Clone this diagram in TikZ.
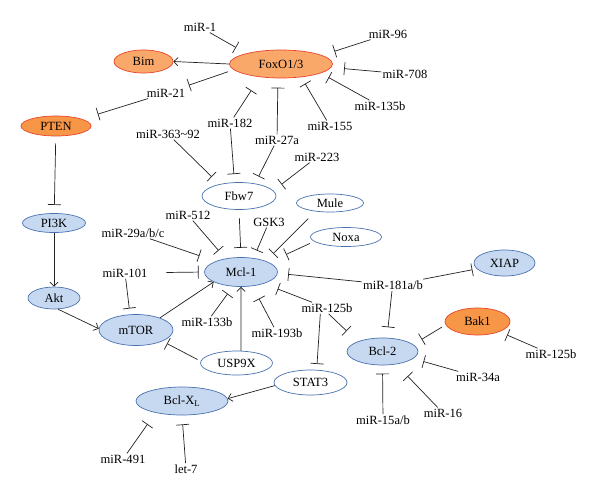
\documentclass[tikz,border=0pt]{standalone}
\usepackage{fontspec}
\setmainfont{Liberation Serif}
\usepackage{xcolor}
\definecolor{foxoColor}{HTML}{F9A86A}
\definecolor{bakColor}{HTML}{F79646}
\definecolor{redLine}{HTML}{E8452C}
\definecolor{blueColor}{HTML}{C6D9F1}
\definecolor{blueLine}{HTML}{4A72B0}
\definecolor{edgeColor}{HTML}{222222}
\usepackage{tikz}
\usetikzlibrary{shapes.geometric, arrows.meta}

\begin{document}
\begin{tikzpicture}[x=0.03cm, y=-0.03cm,
  every node/.style={font=\fontsize{10.7}{12}\selectfont},
  mir/.style={inner sep=1pt},
  el/.style 2 args={ellipse, inner sep=0pt, line width=0.6pt,
    minimum width=#1cm, minimum height=#2cm},
  orng/.style={draw=redLine, fill=foxoColor},
  dorng/.style={draw=redLine, fill=bakColor},
  blu/.style={draw=blueLine, fill=blueColor},
  wht/.style={draw=blueLine, fill=white},
  inh/.style={draw=edgeColor, line width=0.6pt, -{Bar[width=11pt]}},
  act/.style={draw=edgeColor, line width=0.6pt, -{Straight Barb[length=3.5pt,width=7pt]}}]
  \useasboundingbox (0,0) rectangle (600,498);

  % proteins
  \node[el={3.09}{0.84}, orng] (foxo) at (281,64) {FoxO1/3};
  \node[el={1.77}{0.69}, orng] (bim) at (143.5,61.5) {Bim};
  \node[el={2.10}{0.60}, dorng] (pten) at (56,126) {PTEN};
  \node[el={1.89}{0.57}, blu] (pi3k) at (54,223) {PI3K};
  \node[el={1.56}{0.66}, blu] (akt) at (54,298) {Akt};
  \node[el={2.22}{0.93}, blu] (mtor) at (136,330) {mTOR};
  \node[el={2.19}{0.87}, blu] (mcl) at (241,272) {Mcl-1};
  \node[el={2.22}{0.81}, wht] (fbw7) at (239,196) {Fbw7};
  \node[el={2.01}{0.54}, wht] (mule) at (330,203) {Mule};
  \node[el={2.13}{0.57}, wht] (noxa) at (346,237) {Noxa};
  \node[el={1.83}{0.78}, blu] (xiap) at (504.5,263) {XIAP};
  \node[el={1.95}{0.81}, dorng] (bak1) at (477.5,321.5) {Bak1};
  \node[el={2.13}{0.81}, blu] (bcl2) at (382.5,351.5) {Bcl-2};
  \node[el={2.16}{0.72}, wht] (usp) at (236.5,363) {USP9X};
  \node[el={2.19}{0.75}, wht] (stat3) at (310.5,382.5) {STAT3};
  \node[el={2.76}{0.84}, blu] (bclxl) at (182,401) {Bcl-X\textsubscript{L}};

  % regulators
  \node[mir] (m1) at (200,27) {miR-1};
  \node[mir] (m96) at (388,34) {miR-96};
  \node[mir] (m708) at (405,74) {miR-708};
  \node[mir] (m135b) at (380,106) {miR-135b};
  \node[mir] (m155) at (330,126) {miR-155};
  \node[mir] (m27a) at (277,140) {miR-27a};
  \node[mir] (m182) at (230,123) {miR-182};
  \node[mir] (m363) at (168,134) {miR-363\textasciitilde92};
  \node[mir] (m223) at (317,157) {miR-223};
  \node[mir] (m21) at (166,93) {miR-21};
  \node[mir] (m512) at (188,215) {miR-512};
  \node[mir] (m29) at (133,233) {miR-29a/b/c};
  \node[mir] (gsk3) at (269,222) {GSK3};
  \node[mir] (m101) at (125,273) {miR-101};
  \node[mir] (m133) at (207,322) {miR-133b};
  \node[mir] (m193) at (277,333) {miR-193b};
  \node[mir] (m125c) at (327,308) {miR-125b};
  \node[mir] (m181) at (393,285) {miR-181a/b};
  \node[mir] (m125r) at (551,354) {miR-125b};
  \node[mir] (m34a) at (478,377) {miR-34a};
  \node[mir] (m16) at (443,413) {miR-16};
  \node[mir] (m15) at (383,420) {miR-15a/b};
  \node[mir] (m491) at (123,459) {miR-491};
  \node[mir] (let7) at (186,469) {let-7};

  % FoxO1/3 block
  \draw[act] (foxo.west) -- (bim.east);
  \draw[inh, shorten >=10pt] (m1) -- (foxo.163);
  \draw[inh, shorten <=5pt, shorten >=6pt] (foxo.187) -- (m21);
  \draw[inh, shorten >=11pt] (m96) -- (foxo.12);
  \draw[inh, shorten >=11pt] (m708) -- (foxo.-4);
  \draw[inh, shorten >=7.5pt] (m135b) -- (foxo.-13);
  \draw[inh, shorten >=6.4pt] (m155) -- (foxo.-33);
  \draw[inh, shorten >=8pt] (m27a) -- (foxo.-102);
  \draw[inh, shorten >=13.5pt] (m182) -- (foxo.-148);

  % PTEN / PI3K / Akt / mTOR
  \draw[inh, shorten >=14pt] (m21) -- (pten.15);
  \draw[inh, shorten <=6pt, shorten >=7pt] (pten) -- (pi3k);
  \draw[act] (pi3k) -- (akt);
  \draw[act] (akt.-70) -- (mtor.178);
  \draw[inh, shorten >=5pt] (m101) -- (mtor.111);
  \draw[act] (mtor.27) -- (mcl.200);

  % Fbw7
  \draw[inh, shorten >=7pt] (m182) -- (fbw7.108);
  \draw[inh, shorten >=9pt] (m363) -- (fbw7.149);
  \draw[inh, shorten >=6.7pt] (m27a) -- (fbw7.38);
  \draw[inh, shorten >=8.7pt] (m223) -- (fbw7.9);

  % Mcl-1
  \draw[inh, shorten <=7pt, shorten >=8pt] (fbw7.south) -- (mcl.north);
  \draw[inh, shorten >=9pt] (m512) -- (mcl.139);
  \draw[inh, shorten >=14.6pt] (m29) -- (mcl.157);
  \draw[inh, shorten >=7pt] (gsk3) -- (mcl.48);
  \draw[inh, shorten <=8.6pt, shorten >=9pt] (mule.-150) -- (mcl.24);
  \draw[inh, shorten <=4pt, shorten >=16pt] (noxa.-172) -- (mcl.19);
  \draw[inh, shorten >=9pt] (m181) -- (mcl.-2);
  \draw[inh, shorten <=15pt, shorten >=4.7pt] (m101) -- (mcl.west);
  \draw[inh, shorten >=7.6pt] (m133) -- (mcl.-119);
  \draw[act] (usp.70) -- (mcl.south);
  \draw[inh, shorten <=3pt, shorten >=4.4pt] (usp.177) -- (mtor.-23);
  \draw[inh, shorten >=12pt] (m193) -- (mcl.-51);
  \draw[inh, shorten >=12.6pt] (m125c) -- (mcl.-27);

  % Bcl-2 and Bcl-XL
  \draw[inh, shorten >=5pt] (m125c.-139) -- (stat3.64);
  \draw[inh, shorten >=13pt] (m125c.-75) -- (bcl2.158);
  \draw[inh, shorten >=9pt] (m181.-100) -- (bcl2.72);
  \draw[inh, shorten >=3.8pt] (m181) -- (xiap.192);
  \draw[inh, shorten <=3.7pt, shorten >=8.3pt] (bak1.-174) -- (bcl2.13);
  \draw[inh, shorten >=7pt] (m125r) -- (bak1.-25);
  \draw[inh, shorten >=9pt] (m34a) -- (bcl2.-13);
  \draw[inh, shorten >=14pt] (m16) -- (bcl2.-43);
  \draw[inh, shorten >=7pt] (m15) -- (bcl2.south);
  \draw[act] (stat3.185) -- (bclxl.3);
  \draw[inh, shorten >=11.8pt] (m491) -- (bclxl.204);
  \draw[inh, shorten >=7.7pt] (let7) -- (bclxl.south);
\end{tikzpicture}
\end{document}
